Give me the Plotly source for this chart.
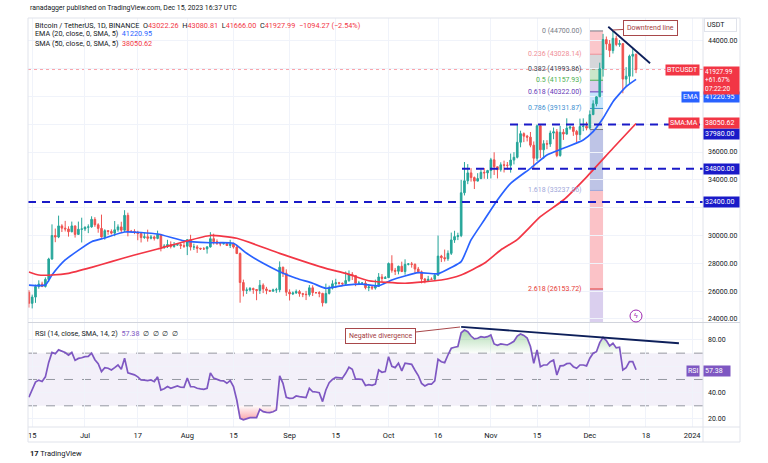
import plotly.graph_objects as go
import pandas as pd
import numpy as np

# ---------------- data ----------------
dates = pd.date_range("2023-06-14", "2023-12-15", freq="D")

opens = [25925, 25125, 25575, 26335, 26510, 26340, 26845, 28310, 30000, 29890, 30690, 30530, 30470, 30270, 30690, 30080, 30450,
         30470, 30590, 30620, 31160, 30770, 30510, 29900, 30350, 30290, 30170, 30410, 30620, 30380, 31450, 30310, 30290, 30230, 30140, 29850, 29910, 29800, 29900, 29790, 30080, 29180, 29230, 29350, 29210, 29310, 29350, 29270,
         29230, 29700, 29170, 29180, 29080, 29040, 29040, 29180, 29770, 29560, 29430, 29400, 29420, 29280, 29400, 29170, 28700, 26620, 26050, 26090, 26190, 26120, 26050, 26430, 26160, 26050, 26000, 26090, 26100, 27720, 27290,
         25930, 25800, 25870, 25970, 25820, 25780, 25750, 26240, 25900, 25900, 25840, 25160, 25840, 26220, 26530, 26600, 26570, 26530, 26760, 27210, 27130, 26570, 26580, 26580, 26250, 26300, 26220, 26350, 27020, 26910,
         26970, 27990, 27500, 27430, 27790, 27410, 27930, 27960, 27930, 27590, 27390, 26870, 26760, 26860, 26850, 27150, 28520, 28410, 28330, 28720, 29680, 29920, 29990, 33070, 33930, 34500, 34160, 33910, 34090, 34540, 34500,
         34670, 35440, 34940, 34730, 35080, 35050, 35040, 35420, 35620, 36700, 37320, 37140, 37070, 36490, 35550, 37880, 36160, 36600, 36570, 37360, 37450, 35750, 37420, 37290, 37720, 37800, 37480, 37250, 37830, 37850,
         37720, 38690, 39460, 39970, 41990, 44080, 43770, 43290, 44170, 43720, 43790, 41240, 41450, 42890, 43022.26]

highs = [26080, 25750, 26470, 26780, 26680, 26990, 28400, 30800, 30500, 31430, 30810, 31050, 30660, 31000, 30710, 31000, 31280,
         30660, 30800, 31380, 31320, 30880, 31500, 30450, 30380, 30440, 31040, 30800, 30990, 31820, 31640, 30400, 30450, 30340, 30230, 30190, 30420, 30050, 29990, 30350, 30100, 29380, 29690, 29580, 29530, 29410, 29450, 29530,
         29740, 30050, 29410, 29310, 29110, 29170, 29240, 30240, 30130, 29720, 29540, 29480, 29450, 29690, 29480, 29230, 28780, 26830, 26270, 26300, 26260, 26140, 26800, 26560, 26310, 26100, 26180, 26240, 28140, 27760, 27570,
         26130, 25980, 26120, 26090, 25880, 26020, 26440, 26420, 25940, 26000, 25880, 26540, 26400, 26780, 26890, 26670, 26620, 27410, 27490, 27370, 27160, 26740, 26640, 26740, 26430, 26390, 26830, 27300, 27230, 27090,
         28060, 28580, 27670, 27830, 28120, 28290, 28020, 28100, 27990, 27740, 27480, 26950, 27100, 26990, 27290, 30000, 28610, 28990, 28930, 30210, 30340, 30200, 34000, 35280, 35130, 34840, 34240, 34480, 34750, 34850, 34720,
         35580, 35980, 34940, 35260, 35380, 35280, 35890, 35990, 37970, 37530, 37410, 37230, 37440, 36760, 37980, 37930, 36850, 36850, 37540, 37760, 37650, 37880, 37650, 38420, 37890, 37840, 37590, 38400, 38420, 38170,
         38990, 39720, 40000, 42420, 44490, 44300, 44050, 44700, 44360, 44050, 43800, 42100, 43000, 43410, 43080.81]

lows = [24820, 24760, 25160, 26180, 26290, 26260, 26660, 28260, 29520, 29810, 30250, 30290, 29920, 30230, 29850, 30040, 29500,
        30320, 30170, 30560, 30620, 30200, 29850, 29700, 30050, 30070, 29950, 30270, 30200, 30250, 29940, 30250, 30100, 29660, 29500, 29760, 29560, 29720, 29640, 29730, 28860, 29040, 29100, 29070, 29120, 29260, 29030, 29110,
        28590, 28920, 28960, 28750, 28960, 28970, 28700, 29130, 29350, 29320, 29230, 29360, 29250, 29100, 29060, 28720, 25170, 25620, 25800, 25980, 25810, 25350, 25800, 25860, 25780, 25980, 25970, 25880, 25920, 27020, 25660,
        25330, 25720, 25810, 25600, 25570, 25360, 25610, 25650, 25800, 25560, 24900, 25130, 25760, 26120, 26220, 26470, 26380, 26400, 26670, 26800, 26360, 26470, 26520, 26130, 26000, 26090, 26110, 26340, 26670, 26890,
        26960, 27330, 27160, 27210, 27370, 27180, 27850, 27690, 27300, 27290, 26560, 26560, 26690, 26810, 26840, 27110, 28090, 28130, 28180, 28600, 29470, 29670, 29880, 32880, 33690, 33870, 33340, 33890, 34050, 34080, 34070,
        34100, 34350, 34100, 34590, 34530, 34740, 34520, 35110, 35540, 36340, 36710, 36760, 36340, 34800, 35360, 35550, 35520, 36200, 36370, 36920, 35630, 35660, 36870, 37250, 37600, 37160, 36720, 36860, 37500, 37560,
        37620, 38650, 39280, 39960, 41420, 43340, 42820, 43080, 43600, 43560, 40220, 40680, 40900, 41420, 41666.00]

closes = [25125, 25575, 26335, 26510, 26340, 26845, 28310, 30000, 29890, 30690, 30530, 30470, 30270, 30690, 30080, 30450, 30470,
          30590, 30620, 31160, 30770, 30510, 29900, 30350, 30290, 30170, 30410, 30620, 30380, 31450, 30310, 30290, 30230, 30140, 29850, 29910, 29800, 29900, 29790, 30080, 29180, 29230, 29350, 29210, 29310, 29350, 29270, 29230,
          29700, 29170, 29180, 29080, 29040, 29040, 29180, 29770, 29560, 29430, 29400, 29420, 29280, 29400, 29170, 28700, 26620, 26050, 26090, 26190, 26120, 26050, 26430, 26160, 26050, 26000, 26090, 26100, 27720, 27290, 25930,
          25800, 25870, 25970, 25820, 25780, 25750, 26240, 25900, 25900, 25840, 25160, 25840, 26220, 26530, 26600, 26570, 26530, 26760, 27210, 27130, 26570, 26580, 26580, 26250, 26300, 26220, 26350, 27020, 26910, 26970,
          27990, 27500, 27430, 27790, 27410, 27930, 27960, 27930, 27590, 27390, 26870, 26760, 26860, 26850, 27150, 28520, 28410, 28330, 28720, 29680, 29920, 29990, 33070, 33930, 34500, 34160, 33910, 34090, 34540, 34500, 34670,
          35440, 34940, 34730, 35080, 35050, 35040, 35420, 35620, 36700, 37320, 37140, 37070, 36490, 35550, 37880, 36160, 36600, 36570, 37360, 37450, 35750, 37420, 37290, 37720, 37800, 37480, 37250, 37830, 37850, 37720,
          38690, 39460, 39970, 41990, 44080, 43770, 43290, 44170, 43720, 43790, 41240, 41450, 42890, 43022.26, 41927.99]

ema_dates = ["2023-06-14", "2023-06-19", "2023-06-21", "2023-06-25", "2023-07-03", "2023-07-07", "2023-07-13", "2023-07-23",
             "2023-07-31", "2023-08-08", "2023-08-15", "2023-08-19", "2023-08-24", "2023-08-29", "2023-09-03", "2023-09-08",
             "2023-09-12", "2023-09-18", "2023-09-23", "2023-09-28", "2023-10-02", "2023-10-10", "2023-10-16", "2023-10-20",
             "2023-10-23", "2023-10-26", "2023-10-30", "2023-11-03", "2023-11-07", "2023-11-13", "2023-11-18", "2023-11-23",
             "2023-11-29", "2023-12-02", "2023-12-05", "2023-12-08", "2023-12-12", "2023-12-15"]
ema_vals = [26440, 26440, 27160, 28240, 29555, 29820, 30250, 30110,
            29620, 29480, 29440, 28720, 28000, 27400, 26925, 26570,
            26210, 26440, 26510, 26380, 26800, 27330, 27250, 27700,
            28120, 29680, 31115, 32550, 33750, 34830, 35790, 36270,
            36870, 37460, 38420, 39620, 40700, 41220.95]

sma_dates = ["2023-06-14", "2023-06-17", "2023-06-21", "2023-06-26", "2023-07-03", "2023-07-09", "2023-07-16", "2023-07-23",
             "2023-07-31", "2023-08-08", "2023-08-16", "2023-08-29", "2023-09-12", "2023-09-18", "2023-09-25", "2023-10-06",
             "2023-10-17", "2023-10-23", "2023-10-30", "2023-11-04", "2023-11-09", "2023-11-16", "2023-11-23", "2023-11-30",
             "2023-12-08", "2023-12-15"]
sma_vals = [27380, 27160, 27160, 27280, 27710, 28120, 28600, 29030,
            29555, 30000, 29800, 28720, 27640, 27280, 26750, 26570,
            26800, 27160, 28000, 28960, 29700, 31350, 32550, 34200,
            36270, 38050.62]

rsi = [36.5, 42, 48, 49.5, 48.5, 52, 63, 70.5, 69.5, 72.5, 71.5, 70.5, 68.5, 70.5, 64.5, 66, 66.5,
       67.3, 67.5, 70, 65, 62, 56, 59, 58.5, 57.2, 59, 61, 57.8, 66.1, 55, 54.5, 53.5, 52, 49.6, 49.5, 49.1, 49.6, 48.3, 52, 42, 43, 44.6, 43.3, 44.5, 45.1, 44.1, 44,
       51, 44.6, 44.5, 43.3, 42.8, 42.5, 43.3, 55, 51, 49.8, 49.1, 49, 47.1, 49.1, 44.6, 34.4, 20.5, 19.3, 20, 21, 21, 21, 27.4, 25.6, 25, 24.8, 25.5, 26.8, 52.7, 47.1, 36.5,
       35.7, 35.8, 37.5, 37, 36.5, 36.2, 43.3, 40.7, 40.5, 40, 33.2, 42, 47.5, 50, 51.6, 51.2, 51, 54.7, 59.3, 57.8, 50.2, 50.2, 50, 45.4, 46, 45.5, 46.5, 57.2, 55.5, 56,
       67.3, 60, 59, 62.3, 56.5, 62.3, 62, 61.5, 57, 53, 47, 45.1, 46.4, 46.4, 49, 65.3, 63.5, 62.8, 68.6, 73.7, 74.5, 75, 85.5, 87.6, 86.3, 83, 80.8, 81.3, 82.5, 82, 82.5,
       83.8, 77, 76, 77, 76.5, 76.2, 77.5, 79, 83, 84.6, 83.5, 81.5, 75, 62.3, 72.4, 59.7, 61, 61, 63.5, 64.8, 53.4, 60.3, 60.5, 62, 62.3, 59.7, 58.5, 61, 61, 60.3,
       66.1, 69.9, 71.1, 78, 82, 79.5, 75.5, 77.5, 74, 74.5, 57.2, 59, 63.5, 63.5, 57.38]

x_ticks = ["2023-06-15", "2023-07-01", "2023-07-17", "2023-08-01", "2023-08-15", "2023-09-01", "2023-09-15",
           "2023-10-01", "2023-10-16", "2023-11-01", "2023-11-15", "2023-12-01", "2023-12-18", "2024-01-01"]
x_labels = ["15", "Jul", "17", "Aug", "15", "Sep", "15", "Oct", "16", "Nov", "15", "Dec", "18", "2024"]
price_ticks = [24000, 26000, 28000, 30000, 32000, 34000, 36000, 38000, 40000, 42000, 44000]
price_labels = ["24000.00", "26000.00", "28000.00", "30000.00", "", "34000.00", "36000.00", "", "", "", "44000.00"]
rsi_ticks = [20, 40, 60, 80]
rsi_labels = ["20.00", "40.00", "", "80.00"]

sr_levels = [32400, 34800, 37980]
fib_high = 44700.00
fib_low = 37615.87
fib_ratios = [0, 0.236, 0.382, 0.5, 0.618, 0.786, 1, 1.618, 2.618]
fib_label_vals = ["44700.00", "43028.14", "41993.86", "41157.93", "40322.00", "39131.87", "37615.87", "33237.86", "26153.72"]

# ---------------- styling ----------------
FONT = "Roboto, 'Liberation Sans', sans-serif"
TXT = "#131722"
UP = "#26a69a"
DN = "#ef5350"
EMA_C = "#2962ff"
SMA_C = "#f23645"
SR_C = "#1a1ac8"
RSI_C = "#7e57c2"

W, H = 768, 463
L, R, T, B = 28, 65, 18, 36
PW = W - L - R
PH = H - T - B


def px_x(px):
    return (px - L) / PW


def px_y(py):
    return (H - B - py) / PH


Y_MIN, Y_MAX = 23784, 45631
R_MIN, R_MAX = 13.9, 92.9
X_MIN, X_MAX = "2023-06-13 17:30", "2024-01-04 07:00"

fig = go.Figure()

fig.add_trace(go.Candlestick(
    x=dates, open=opens, high=highs, low=lows, close=closes,
    increasing=dict(line=dict(color=UP, width=1), fillcolor=UP),
    decreasing=dict(line=dict(color=DN, width=1), fillcolor=DN),
    whiskerwidth=0, showlegend=False, xaxis="x", yaxis="y", hoverinfo="skip"))

fig.add_trace(go.Scatter(x=ema_dates, y=ema_vals, mode="lines", line=dict(color=EMA_C, width=1.7, shape="spline", smoothing=0.5),
                         showlegend=False, xaxis="x", yaxis="y", hoverinfo="skip"))
fig.add_trace(go.Scatter(x=sma_dates, y=sma_vals, mode="lines", line=dict(color=SMA_C, width=1.7, shape="spline", smoothing=0.5),
                         showlegend=False, xaxis="x", yaxis="y", hoverinfo="skip"))

rsi_arr = np.array(rsi)
fig.add_trace(go.Scatter(x=dates, y=np.full(len(rsi_arr), 70.0), mode="lines", line=dict(width=0),
                         showlegend=False, xaxis="x2", yaxis="y2", hoverinfo="skip"))
fig.add_trace(go.Scatter(x=dates, y=np.maximum(rsi_arr, 70), mode="lines", line=dict(width=0), fill="tonexty",
                         fillgradient=dict(type="vertical", colorscale=[[0, "rgba(76,175,80,0.02)"], [1, "rgba(76,175,80,0.45)"]]),
                         showlegend=False, xaxis="x2", yaxis="y2", hoverinfo="skip"))
fig.add_trace(go.Scatter(x=dates, y=np.full(len(rsi_arr), 30.0), mode="lines", line=dict(width=0),
                         showlegend=False, xaxis="x2", yaxis="y2", hoverinfo="skip"))
fig.add_trace(go.Scatter(x=dates, y=np.minimum(rsi_arr, 30), mode="lines", line=dict(width=0), fill="tonexty",
                         fillgradient=dict(type="vertical", colorscale=[[0, "rgba(242,54,69,0.45)"], [1, "rgba(242,54,69,0.02)"]]),
                         showlegend=False, xaxis="x2", yaxis="y2", hoverinfo="skip"))
fig.add_trace(go.Scatter(x=dates, y=rsi, mode="lines", line=dict(color=RSI_C, width=1.7),
                         showlegend=False, xaxis="x2", yaxis="y2", hoverinfo="skip"))

shapes = []
shapes.append(dict(type="rect", xref="paper", yref="y2", x0=0, x1=1, y0=30, y1=70,
                   fillcolor="rgba(126,87,194,0.09)", line=dict(width=0), layer="below"))
for lv in [70, 50, 30]:
    shapes.append(dict(type="line", xref="paper", yref="y2", x0=0, x1=1, y0=lv, y1=lv,
                       line=dict(color="#9598a1", width=1, dash="dash"), layer="below"))

fib_fill = ["rgba(242,54,69,0.28)", "rgba(120,123,134,0.3)", "rgba(76,175,80,0.3)", "rgba(103,58,183,0.25)",
            "rgba(33,150,243,0.25)", "rgba(120,123,134,0.2)", "rgba(92,107,192,0.4)", "rgba(242,54,69,0.3)",
            "rgba(149,117,205,0.35)"]
fib_line = ["#787b86", "#ef8f97", "#555861", "#4caf50", "#673ab7", "#3d8fd1", "#787b86", "#9fa8da", "#e53935"]
fib_prices = [fib_high - r * (fib_high - fib_low) for r in fib_ratios]
fx0, fx1 = "2023-12-01", "2023-12-05"
for i in range(len(fib_prices)):
    top = fib_prices[i]
    bot = fib_prices[i + 1] if i + 1 < len(fib_prices) else Y_MIN
    shapes.append(dict(type="rect", xref="x", yref="y", x0=fx0, x1=fx1, y0=bot, y1=top,
                       fillcolor=fib_fill[i], line=dict(width=0), layer="below"))
for i, p in enumerate(fib_prices):
    shapes.append(dict(type="line", xref="x", yref="y", x0=fx0, x1=fx1, y0=p, y1=p,
                       line=dict(color=fib_line[i], width=1), layer="below"))

shapes.append(dict(type="line", xref="paper", yref="y", x0=0, x1=1, y0=closes[-1], y1=closes[-1],
                   line=dict(color="rgba(242,54,69,0.45)", width=1, dash="dot"), layer="below"))

sr_start = [0, px_x(462), px_x(510)]
for lv, s in zip(sr_levels, sr_start):
    shapes.append(dict(type="line", xref="paper", yref="y", x0=s, x1=1, y0=lv, y1=lv,
                       line=dict(color=SR_C, width=2, dash="8px,6px"), layer="above"))

shapes.append(dict(type="line", xref="x", yref="y", x0="2023-12-06 14:00", y0=45006, x1="2023-12-19 06:00", y1=42376,
                   line=dict(color="#0d1f5a", width=1.8), layer="above"))
shapes.append(dict(type="line", xref="x2", yref="y2", x0="2023-10-23", y0=90, x1="2023-12-28", y1=77.5,
                   line=dict(color="#0d1f5a", width=1.8), layer="above"))

FR = px_x(740)
shapes.append(dict(type="rect", xref="paper", yref="paper", x0=0, x1=FR, y0=px_y(442), y1=1,
                   line=dict(color="#e0e3eb", width=1), fillcolor="rgba(0,0,0,0)", layer="above"))
shapes.append(dict(type="line", xref="paper", yref="paper", x0=1, x1=1, y0=px_y(442), y1=1,
                   line=dict(color="#e0e3eb", width=1)))
shapes.append(dict(type="line", xref="paper", yref="paper", x0=0, x1=FR, y0=px_y(322.5), y1=px_y(322.5),
                   line=dict(color="#d1d4dc", width=1)))
shapes.append(dict(type="line", xref="paper", yref="paper", x0=0, x1=FR, y0=0, y1=0,
                   line=dict(color="#e0e3eb", width=1)))
shapes.append(dict(type="circle", xref="paper", yref="paper", x0=px_x(630), x1=px_x(642), y0=px_y(322), y1=px_y(310),
                   line=dict(color="#9c27b0", width=1), fillcolor="white", layer="above"))

ann = []


def txt(x, y, s, size=7, color=TXT, xanchor="left", **kw):
    d = dict(xref="paper", yref="paper", x=x, y=y, text=s, showarrow=False, xanchor=xanchor, yanchor="middle",
             font=dict(family=FONT, size=size, color=color))
    d.update(kw)
    ann.append(d)


red = lambda s: f"<span style='color:#f23645'>{s}</span>"
txt(px_x(28), px_y(8), "ranadagger published on TradingView.com, Dec 15, 2023 16:37 UTC", size=6.9)
txt(px_x(33), px_y(25), "Bitcoin / TetherUS, 1D, BINANCE  O" + red("43022.26") + "  H" + red("43080.81") + "  L" + red("41666.00")
    + "  C" + red("41927.99") + "  " + red("−1094.27 (−2.54%)"), size=7.3)
txt(px_x(33), px_y(34), "EMA (20, close, 0, SMA, 5)  <span style='color:#2962ff'>41220.95</span>", size=7.2)
txt(px_x(33), px_y(43), "SMA (50, close, 0, SMA, 5)  " + red("38050.62"), size=7.2)
txt(px_x(33), px_y(333), "RSI (14, close, SMA, 14, 2)  <span style='color:#7e57c2'>57.38</span>  ∅  ∅  ∅  ∅", size=7.2)
txt(px_x(28), px_y(453), "<b>17</b> TradingView", size=7.5, color="#131722")
txt(px_x(636), px_y(316), "ϟ", size=7, color="#9c27b0", xanchor="center")

fib_txt_c = ["#787b86", "#ef8f97", "#434651", "#4caf50", "#673ab7", "#3d8fd1", "#b2b5be", "#9fa8da", "#e53935"]
for i, (r, v) in enumerate(zip(fib_ratios, fib_label_vals)):
    if r == 1:
        continue
    ann.append(dict(xref="paper", yref="y", x=px_x(584), y=fib_prices[i], text=f"{r:g} ({v})", showarrow=False,
                    xanchor="right", yanchor="middle", font=dict(family=FONT, size=7, color=fib_txt_c[i])))


def box(y, s, bg, yref="y", width=33, x=1.0, xanchor="left", fc="white", yanchor="middle", size=7, **kw):
    d = dict(xref="paper", yref=yref, x=x, y=y, text=s, showarrow=False, xanchor=xanchor, yanchor=yanchor,
             bgcolor=bg, borderpad=1, width=width, align="left", font=dict(family=FONT, size=size, color=fc))
    d.update(kw)
    ann.append(d)


def py_price(py):
    return 44000 - (py - 40.7) / 13.915 * 1000


box(34800, "34800.00", SR_C)
box(32400, "32400.00", SR_C)
box(py_price(134.5), "37980.00", SR_C)
box(38050.62, "38050.62", SMA_C)
box(py_price(97), "41220.95", EMA_C)
box(py_price(65.5), "41927.99<br>+61.67%<br>07:22:20", SMA_C, yanchor="top", size=6.5)
box(py_price(70), "BTCUSDT", SMA_C, x=px_x(700), xanchor="right", width=None)
box(py_price(97), "EMA", EMA_C, x=px_x(700), xanchor="right", width=None)
box(38050.62, "SMA:MA", SMA_C, x=px_x(700), xanchor="right", width=None)
box(56.8, "57.38", RSI_C, yref="y2", width=24)
box(56.8, "RSI", RSI_C, yref="y2", x=px_x(700), xanchor="right", width=None)
ann.append(dict(xref="paper", yref="paper", x=px_x(704), y=px_y(25.5), text="USDT", showarrow=False, xanchor="left",
                yanchor="middle", bgcolor="white", bordercolor="#e0e3eb", borderwidth=1, borderpad=2, width=27, align="left",
                font=dict(family=FONT, size=7, color=TXT)))

ann.append(dict(xref="paper", yref="paper", x=px_x(613), y=px_y(30), ax=37, ay=-2, text="Downtrend line",
                showarrow=True, arrowhead=0, arrowwidth=1, arrowcolor="#a8474a", bgcolor="white", bordercolor="#a8474a",
                borderwidth=1, borderpad=3, font=dict(family=FONT, size=7, color="#a33a3d")))
ann.append(dict(xref="paper", yref="paper", x=px_x(460), y=px_y(327), ax=-80, ay=9, text="Negative divergence",
                showarrow=True, arrowhead=0, arrowwidth=1, arrowcolor="#a8474a", bgcolor="white", bordercolor="#a8474a",
                borderwidth=1, borderpad=3, font=dict(family=FONT, size=7, color="#a33a3d")))

GRID = "#f0f3fa"
fig.update_layout(
    width=W, height=H, margin=dict(l=L, r=R, t=T, b=B),
    paper_bgcolor="white", plot_bgcolor="white",
    font=dict(family=FONT, size=7, color=TXT),
    showlegend=False, hovermode=False,
    shapes=shapes, annotations=ann,
    xaxis=dict(domain=[0, 1], anchor="y", type="date", range=[X_MIN, X_MAX], showticklabels=False,
               tickvals=x_ticks, showgrid=True, gridcolor=GRID, zeroline=False, rangeslider=dict(visible=False),
               showline=False, ticks=""),
    yaxis=dict(domain=[px_y(322), 1], anchor="x", side="right", range=[Y_MIN, Y_MAX], tickvals=price_ticks,
               ticktext=price_labels, showgrid=True, gridcolor=GRID, zeroline=False,
               ticks="", ticklabelstandoff=4, tickfont=dict(size=7, color=TXT)),
    xaxis2=dict(domain=[0, 1], anchor="y2", type="date", matches="x", range=[X_MIN, X_MAX], tickvals=x_ticks,
                ticktext=x_labels, showgrid=True, gridcolor=GRID, zeroline=False, ticks="", ticklabelstandoff=2,
                tickfont=dict(size=7.5, color=TXT), showline=False),
    yaxis2=dict(domain=[0, px_y(323)], anchor="x2", side="right", range=[R_MIN, R_MAX], tickvals=rsi_ticks,
                ticktext=rsi_labels, showgrid=True, gridcolor=GRID, zeroline=False,
                ticks="", ticklabelstandoff=4, tickfont=dict(size=7, color=TXT)),
)

fig.write_html("out.html", config=dict(displayModeBar=False),
               post_script="document.body.style.margin='0px';document.body.style.overflow='hidden';")
